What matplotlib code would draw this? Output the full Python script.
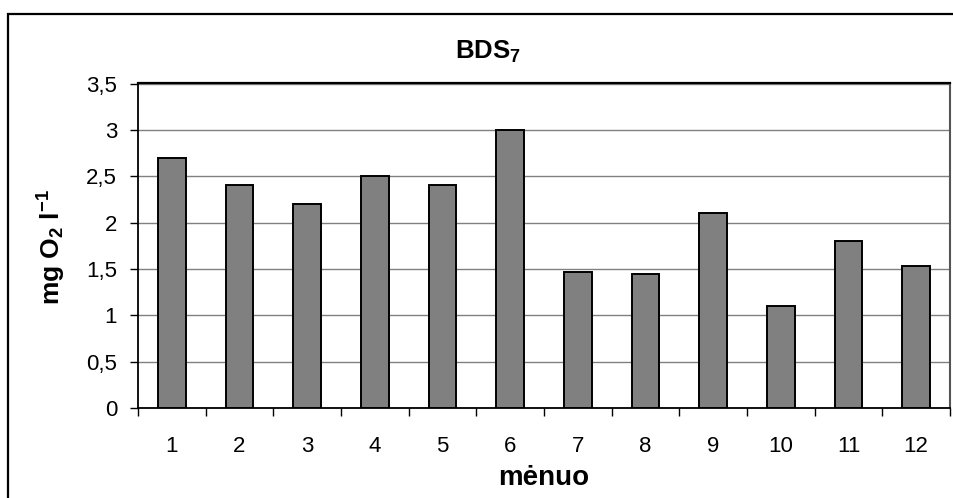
import matplotlib
matplotlib.use("Agg")
import matplotlib.pyplot as plt
from matplotlib.patches import Rectangle

plt.rcParams['font.family'] = ['Liberation Sans', 'DejaVu Sans']
plt.rcParams['mathtext.fontset'] = 'custom'
plt.rcParams['mathtext.rm'] = 'Liberation Sans'
plt.rcParams['mathtext.bf'] = 'Liberation Sans:bold'
plt.rcParams['mathtext.it'] = 'Liberation Sans:italic'

months = ["1", "2", "3", "4", "5", "6", "7", "8", "9", "10", "11", "12"]
values = [2.7, 2.4, 2.2, 2.5, 2.4, 3.0, 1.47, 1.45, 2.1, 1.1, 1.8, 1.53]
yticks = [0, 0.5, 1, 1.5, 2, 2.5, 3, 3.5]
ytick_labels = ["0", "0,5", "1", "1,5", "2", "2,5", "3", "3,5"]

W, H = 954, 498
fig = plt.figure(figsize=(W / 100, H / 100), dpi=100)
ax = fig.add_axes([138 / W, (H - 408) / H, (950 - 138) / W, (408 - 83.5) / H])

x = list(range(len(months)))
ax.bar(x, values, width=0.41, color="#808080", edgecolor="black", linewidth=1.4, zorder=3)

ax.set_xlim(-0.5, len(months) - 0.5)
ax.set_ylim(0, 3.5)
ax.set_yticks(yticks)
ax.set_yticklabels(ytick_labels)
ax.set_xticks(x)
ax.set_xticklabels(months)
ax.set_xticks([i + 0.5 for i in range(-1, len(months))], minor=True)

ax.yaxis.grid(True, color="#808080", linewidth=1.0, zorder=0)
ax.set_axisbelow(True)

ax.tick_params(axis='x', which='major', length=0, pad=20, labelsize=16)
ax.tick_params(axis='x', which='minor', length=6, width=1, color='black', direction='out')
ax.tick_params(axis='y', length=6, width=1, pad=9, labelsize=16, direction='out')

for s in ['left', 'bottom', 'top']:
    ax.spines[s].set_color('black')
    ax.spines[s].set_linewidth(1.3)
ax.spines['top'].set_linewidth(1.6)
ax.spines['right'].set_color('#555555')
ax.spines['right'].set_linewidth(1.5)

fig.text(488 / W, 1 - 52 / H, r"$\mathbf{BDS_7}$", ha='center', va='center', fontsize=18.5)
fig.text(544 / W, 1 - 478 / H, "mėnuo", ha='center', va='center', fontsize=20, fontweight='bold')
fig.text(52 / W, 1 - 247 / H, r"$\mathbf{mg\ O_2\ l^{-1}}$", ha='center', va='center',
         fontsize=19, rotation=90)

frame = Rectangle((8 / W, -0.2), 2.0, (H - 14) / H + 0.2, transform=fig.transFigure,
                  fill=False, edgecolor='black', linewidth=1.6, clip_on=False)
fig.patches.append(frame)

fig.savefig("out.png", dpi=100)
